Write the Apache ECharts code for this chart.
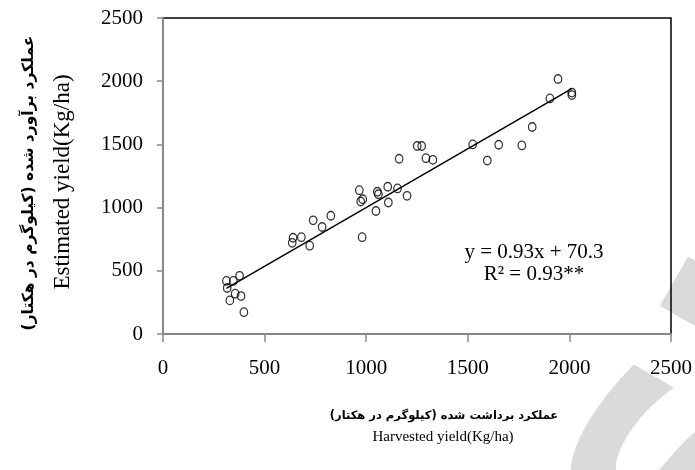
<!DOCTYPE html>
<html><head><meta charset="utf-8">
<script src="https://cdn.jsdelivr.net/npm/echarts@6/dist/echarts.min.js"></script>
<style>html,body{margin:0;padding:0;background:#fff}#c{width:695px;height:470px}</style>
</head><body><div id="c"></div>
<script>
// Harvested yield (Kg/ha) vs estimated yield (Kg/ha)
const harvested = [312, 346, 316, 377, 355, 329, 384, 398, 636, 640, 681, 722, 739, 783, 826, 966, 973, 983, 980, 1048, 1055, 1060, 1106, 1109, 1154, 1201, 1162, 1251, 1273, 1294, 1328, 1524, 1596, 1652, 1766, 1817, 1904, 1944, 2012, 2012];
const estimated = [420, 420, 364, 460, 319, 266, 300, 173, 721, 761, 766, 699, 899, 846, 936, 1138, 1048, 1066, 766, 973, 1125, 1106, 1165, 1040, 1152, 1093, 1386, 1487, 1487, 1391, 1378, 1500, 1372, 1497, 1492, 1638, 1864, 2017, 1890, 1910];
const xTicks = [0, 500, 1000, 1500, 2000, 2500];
const yTicks = [0, 500, 1000, 1500, 2000, 2500];
const slope = 0.93, intercept = 70.3;
const fitRange = [312, 2012];
const eqText = 'y = 0.93x + 70.3';
const r2Text = 'R\u00B2 = 0.93**';
const xTitleFa = 'عملکرد برداشت شده (کیلوگرم در هکتار)';
const xTitleEn = 'Harvested yield(Kg/ha)';
const yTitleFa = 'عملکرد برآورد شده (کیلوگرم در هکتار)';
const yTitleEn = 'Estimated yield(Kg/ha)';
const watermark = 'SID';

const points = harvested.map((h, i) => [h, estimated[i]]);
const fitLine = fitRange.map(x => [x, slope * x + intercept]);

const chart = echarts.init(document.getElementById('c'), null, {renderer: 'canvas'});
const serif = 'Liberation Serif';
const axisCommon = {
  type: 'value',
  axisLine: {show: true, onZero: false, lineStyle: {color: '#888', width: 2}},
  axisTick: {show: true, inside: false, lineStyle: {color: '#888', width: 1.5}},
  splitLine: {show: false},
  axisLabel: {color: '#000', fontFamily: serif, fontSize: 21, formatter: v => String(v)}
};
chart.setOption({
  animation: false,
  backgroundColor: '#fff',
  grid: {left: 163, right: 23, top: 18, bottom: 136, show: true, borderColor: '#000', borderWidth: 1.5, backgroundColor: 'transparent'},
  xAxis: Object.assign({}, axisCommon, {
    min: xTicks[0], max: xTicks[xTicks.length - 1], interval: xTicks[1] - xTicks[0],
    axisTick: Object.assign({}, axisCommon.axisTick, {length: 8}),
    axisLabel: Object.assign({}, axisCommon.axisLabel, {margin: 24})
  }),
  yAxis: Object.assign({}, axisCommon, {
    min: yTicks[0], max: yTicks[yTicks.length - 1], interval: yTicks[1] - yTicks[0],
    axisTick: Object.assign({}, axisCommon.axisTick, {length: 6}),
    axisLabel: Object.assign({}, axisCommon.axisLabel, {margin: 20})
  }),
  series: [
    {type: 'line', data: fitLine, symbol: 'none', lineStyle: {color: '#000', width: 1.5}, z: 2},
    {type: 'scatter', data: points, symbol: 'circle', symbolSize: [7.5, 8.5],
     itemStyle: {color: 'rgba(255,255,255,0)', borderColor: '#000', borderWidth: 1.3}, z: 3}
  ],
  graphic: [
    {type: 'text', x: 530, y: 512, rotation: Math.PI / 3, z: -10, silent: true,
     style: {text: watermark, font: 'bold 300px "DejaVu Sans"', fill: '#dadada', align: 'left', verticalAlign: 'top'}},
    {type: 'text', x: 534, y: 252, style: {text: eqText, font: '21px "Liberation Serif"', fill: '#000', align: 'center', verticalAlign: 'middle'}},
    {type: 'text', x: 534, y: 274, style: {text: r2Text, font: '21px "Liberation Serif"', fill: '#000', align: 'center', verticalAlign: 'middle'}},
    {type: 'text', x: 444, y: 416, style: {text: xTitleFa, font: 'bold 11.5px "DejaVu Sans"', fill: '#000', align: 'center', verticalAlign: 'middle'}},
    {type: 'text', x: 443, y: 437, style: {text: xTitleEn, font: '15px "Liberation Serif"', fill: '#000', align: 'center', verticalAlign: 'middle'}},
    {type: 'text', x: 29, y: 183, rotation: Math.PI / 2, style: {text: yTitleFa, font: 'bold 15.5px "DejaVu Sans"', fill: '#000', align: 'center', verticalAlign: 'middle'}},
    {type: 'text', x: 63, y: 182, rotation: Math.PI / 2, style: {text: yTitleEn, font: '23px "Liberation Serif"', fill: '#000', align: 'center', verticalAlign: 'middle'}}
  ]
});
</script></body></html>
